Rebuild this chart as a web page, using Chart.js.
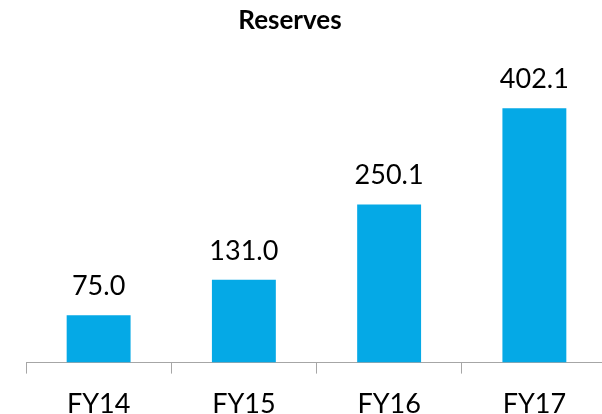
<!DOCTYPE html>
<html>
<head>
<meta charset="utf-8">
<script src="https://cdn.jsdelivr.net/npm/chart.js@4/dist/chart.umd.min.js"></script>
<style>
  html, body { margin: 0; padding: 0; background: #fff; overflow: hidden; }
  #wrap { width: 602px; height: 414px; overflow: hidden; }
</style>
</head>
<body>
<div id="wrap"><canvas id="chart" width="640" height="439"></canvas></div>
<script>
const categories = ["FY14", "FY15", "FY16", "FY17"];
const reserves = [75.0, 131.0, 250.1, 402.1];
const chartTitle = "Reserves";

// title and value labels, drawn on the canvas
const labelPlugin = {
  id: "labels",
  afterDatasetsDraw(chart) {
    const ctx = chart.ctx;
    ctx.save();
    ctx.fillStyle = "#000";
    ctx.textAlign = "center";
    ctx.textBaseline = "alphabetic";
    ctx.font = "27px Lato";
    chart.getDatasetMeta(0).data.forEach((bar, i) => {
      ctx.fillText(reserves[i].toFixed(1), bar.x, bar.y - 20);
    });
    ctx.font = "bold 26px Lato";
    ctx.fillText(chartTitle, 290, 29);
    ctx.restore();
  }
};

new Chart(document.getElementById("chart"), {
  type: "bar",
  data: {
    labels: categories,
    datasets: [{
      data: reserves,
      backgroundColor: "#05A9E6",
      categoryPercentage: 0.88,
      barPercentage: 0.5,
    }]
  },
  options: {
    responsive: false,
    animation: false,
    layout: { padding: { left: 26, right: 33, top: 78, bottom: 5 } },
    plugins: { legend: { display: false }, tooltip: { enabled: false } },
    scales: {
      x: {
        grid: {
          drawOnChartArea: false,
          drawTicks: true,
          tickLength: 11,
          color: "#A6A6A6",
          offset: true,
        },
        border: { color: "#A6A6A6", width: 1 },
        ticks: { color: "#000", font: { family: "Lato", size: 27 }, padding: 14 }
      },
      y: {
        display: false,
        min: 0,
        max: 450,
      }
    }
  },
  plugins: [labelPlugin]
});
</script>
</body>
</html>
